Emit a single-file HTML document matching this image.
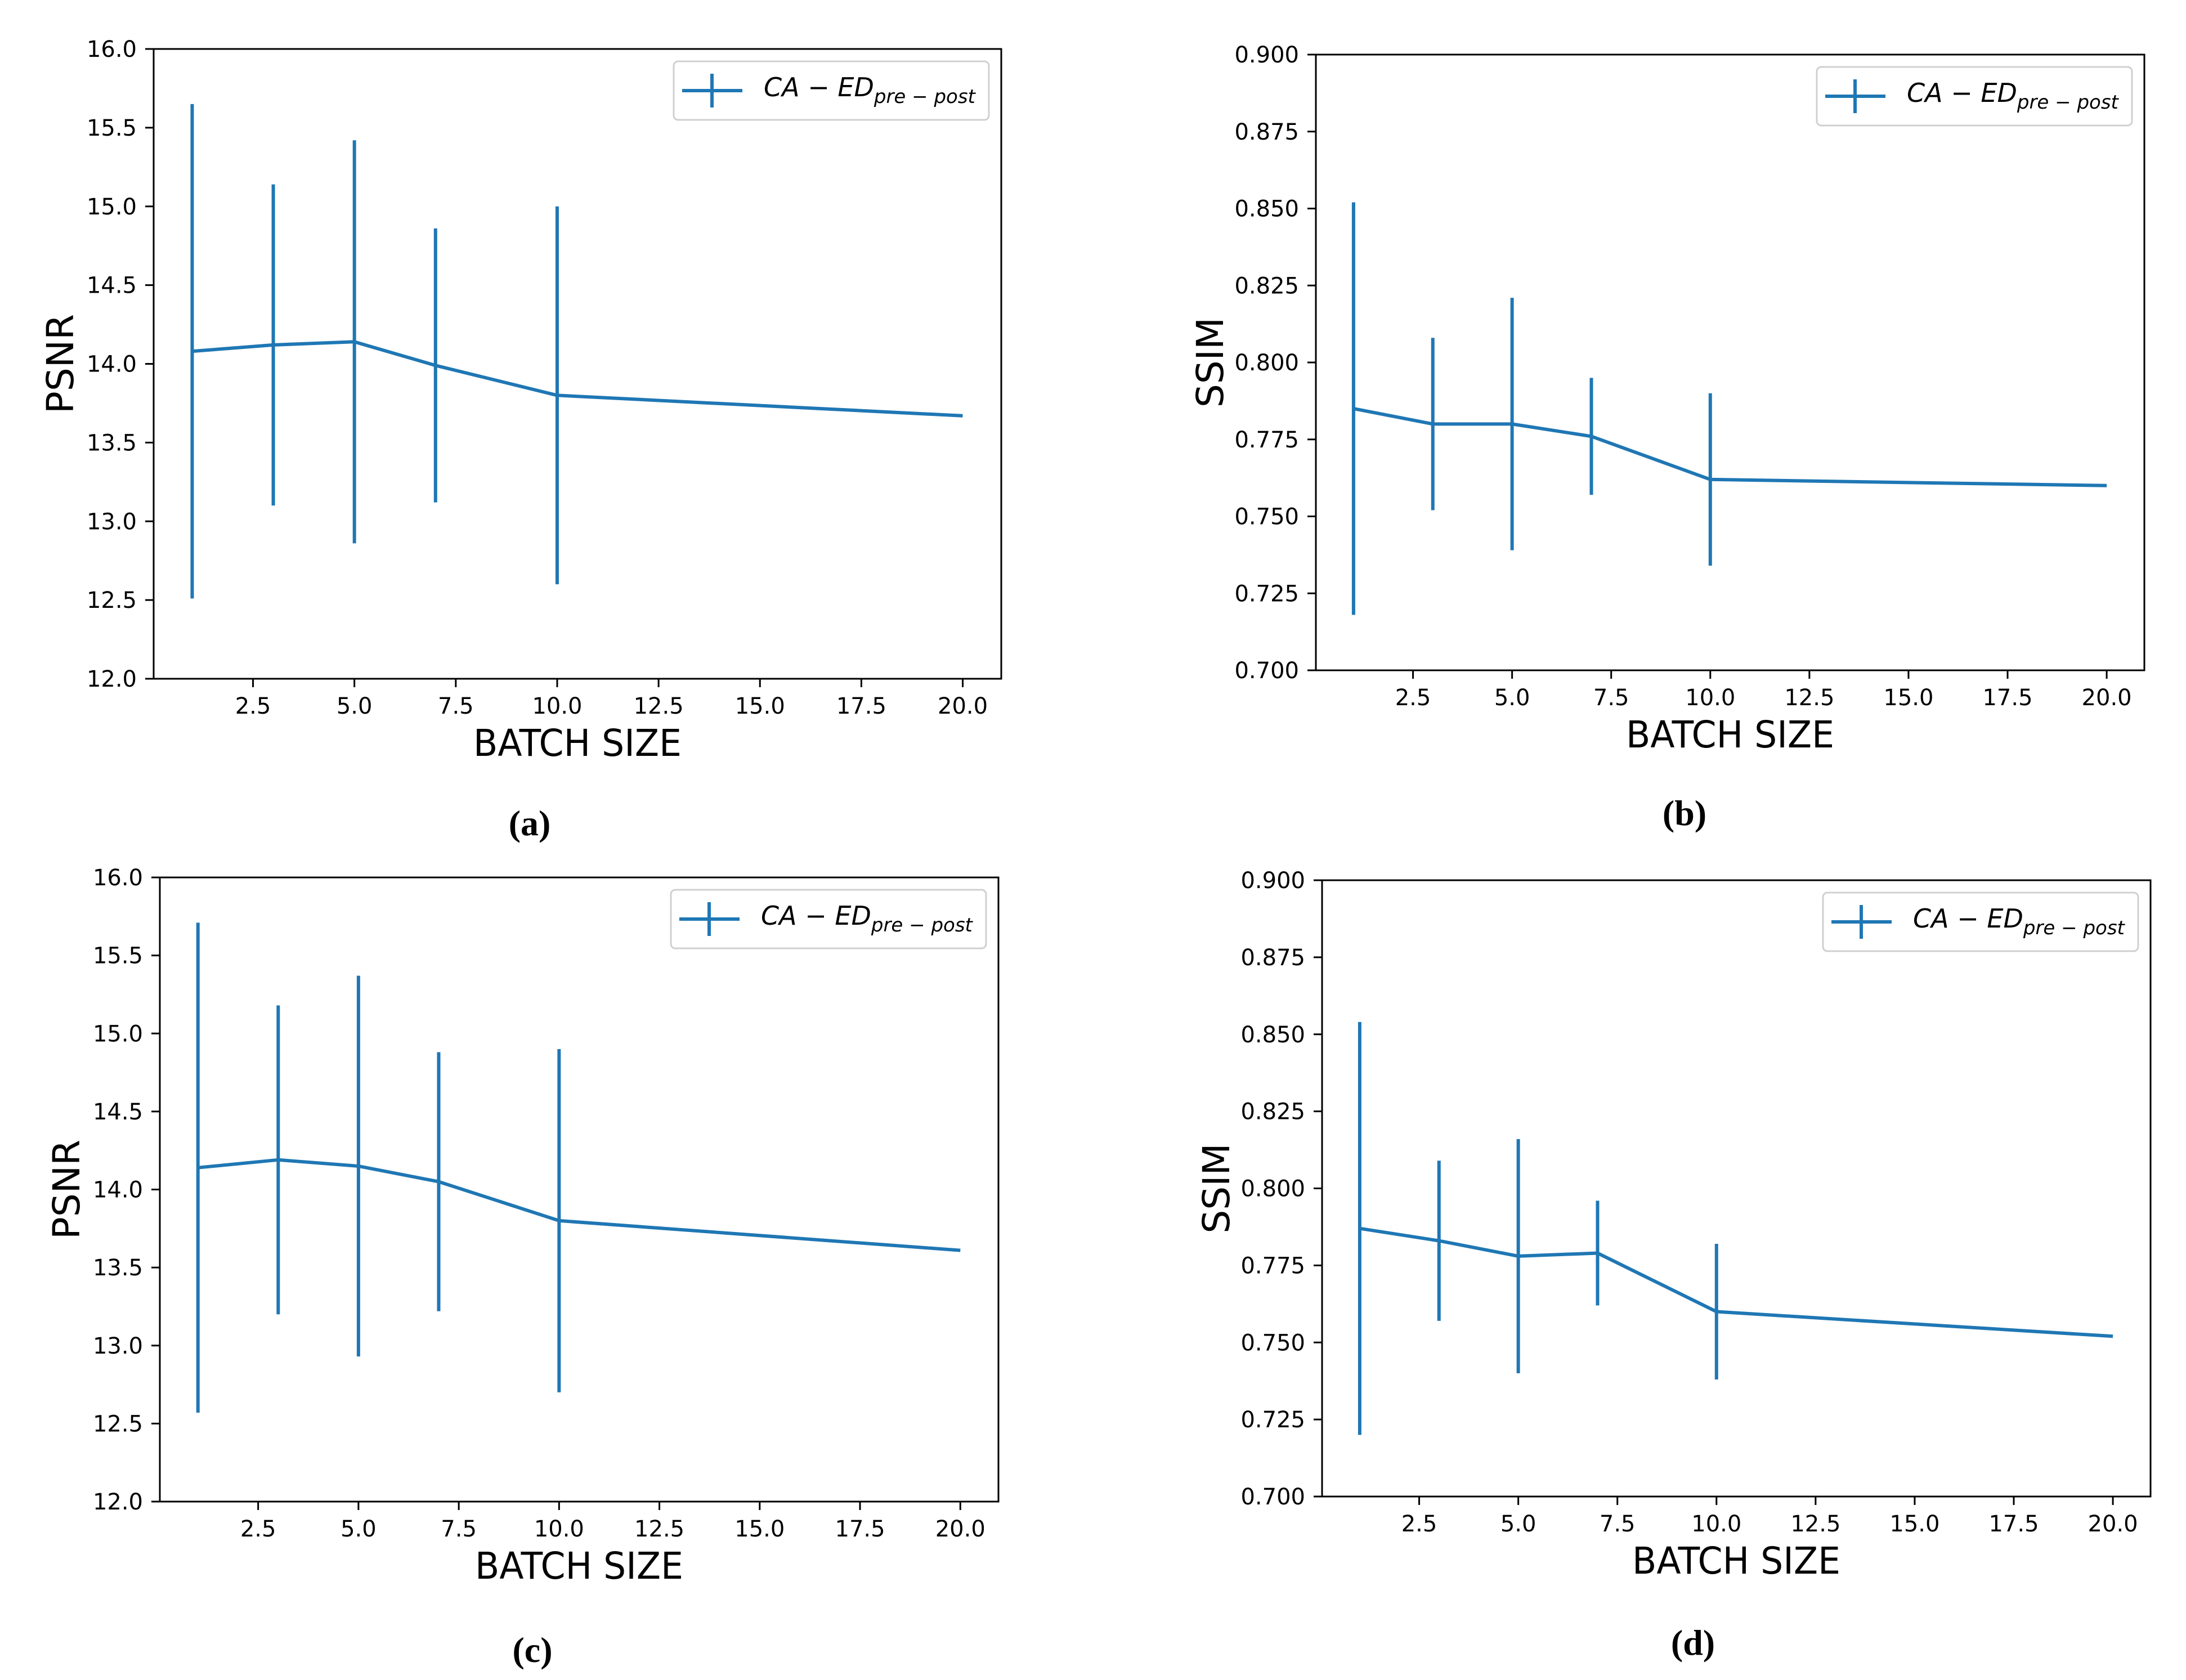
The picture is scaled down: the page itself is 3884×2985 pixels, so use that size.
<!DOCTYPE html>
<html><head><meta charset="utf-8">
<style>
html,body{margin:0;padding:0;background:#fff;}
svg{display:block;}
text{font-family:"DejaVu Sans","Liberation Sans",sans-serif;}
.cap{font-family:"Liberation Serif",serif;font-weight:bold;}
</style></head>
<body>
<svg id="fig" width="3884" height="2985" viewBox="0 0 3884 2985" xmlns="http://www.w3.org/2000/svg"></svg>
<script>
const batchSizes = [1, 3, 5, 7, 10, 20];
const psnrA = [14.08, 14.12, 14.14, 13.99, 13.80, 13.67];
const psnrAErr = [1.57, 1.02, 1.28, 0.87, 1.20, 0];
const ssimB = [0.785, 0.780, 0.780, 0.776, 0.762, 0.760];
const ssimBErr = [0.067, 0.028, 0.041, 0.019, 0.028, 0];
const psnrC = [14.14, 14.19, 14.15, 14.05, 13.80, 13.61];
const psnrCErr = [1.57, 0.99, 1.22, 0.83, 1.10, 0];
const ssimD = [0.787, 0.783, 0.778, 0.779, 0.760, 0.752];
const ssimDErr = [0.067, 0.026, 0.038, 0.017, 0.022, 0];
const xTicks = [2.5, 5.0, 7.5, 10.0, 12.5, 15.0, 17.5, 20.0];
const psnrTicks = [12.0, 12.5, 13.0, 13.5, 14.0, 14.5, 15.0, 15.5, 16.0];
const ssimTicks = [0.700, 0.725, 0.750, 0.775, 0.800, 0.825, 0.850, 0.875, 0.900];

const NS = 'http://www.w3.org/2000/svg';
const svg = document.getElementById('fig');
const C = '#1f77b4';
function mk(tag, attrs, parent) {
  const e = document.createElementNS(NS, tag);
  for (const k in attrs) e.setAttribute(k, attrs[k]);
  (parent || svg).appendChild(e);
  return e;
}

const panels = [
  {id:'a', L:273, T:87, R:1779, B:1206, y:psnrA, e:psnrAErr, ticks:psnrTicks, dec:1, ylab:'PSNR', cx:941, cy:1474},
  {id:'b', L:2338, T:97, R:3810, B:1191, y:ssimB, e:ssimBErr, ticks:ssimTicks, dec:3, ylab:'SSIM', cx:2993, cy:1456},
  {id:'c', L:284, T:1559, R:1774, B:2668, y:psnrC, e:psnrCErr, ticks:psnrTicks, dec:1, ylab:'PSNR', cx:946, cy:2943},
  {id:'d', L:2349, T:1564, R:3821, B:2659, y:ssimD, e:ssimDErr, ticks:ssimTicks, dec:3, ylab:'SSIM', cx:3008, cy:2930}
];

panels.forEach(p => {
  const g = mk('g', {});
  
  
  const x0 = 0.05, x1 = 20.95;
  const y0 = p.ticks[0], y1 = p.ticks[p.ticks.length - 1];
  const sx = v => p.L + (v - x0) / (x1 - x0) * (p.R - p.L);
  const sy = v => p.B - (v - y0) / (y1 - y0) * (p.B - p.T);

  batchSizes.forEach((b, i) => {
    if (p.e[i] <= 0) return;
    const l = mk('line', {x1:sx(b), x2:sx(b), y1:sy(p.y[i] - p.e[i]), y2:sy(p.y[i] + p.e[i]), stroke:C, 'stroke-width':6}, g);
    
    
  });
  const pts = batchSizes.map((b, i) => sx(b).toFixed(1) + ',' + sy(p.y[i]).toFixed(1)).join(' ');
  const pl = mk('polyline', {points:pts, fill:'none', stroke:C, 'stroke-width':6, 'stroke-linejoin':'round'}, g);
  
  

  const fr = mk('rect', {x:p.L, y:p.T, width:p.R - p.L, height:p.B - p.T, fill:'none', stroke:'#000', 'stroke-width':3}, g);
  
  

  xTicks.forEach(t => {
    const X = sx(t);
    const tl = mk('line', {x1:X, x2:X, y1:p.B, y2:p.B + 15, stroke:'#000', 'stroke-width':3}, g);
    
    
    const tx = mk('text', {x:X, y:p.B + 62, 'font-size':40, 'text-anchor':'middle', fill:'#000'}, g);
    tx.textContent = t.toFixed(1);
    
    
  });
  p.ticks.forEach(t => {
    const Y = sy(t);
    const tl = mk('line', {x1:p.L - 15, x2:p.L, y1:Y, y2:Y, stroke:'#000', 'stroke-width':3}, g);
    
    
    const tx = mk('text', {x:p.L - 30, y:Y + 14, 'font-size':40, 'text-anchor':'end', fill:'#000'}, g);
    tx.textContent = t.toFixed(p.dec);
    
    
  });
  const xl = mk('text', {x:(p.L + p.R) / 2, y:p.B + 137, 'font-size':66, 'text-anchor':'middle', fill:'#000', textLength:370, lengthAdjust:'spacingAndGlyphs'}, g);
  xl.textContent = 'BATCH SIZE';
  
  
  const yx = p.dec === 1 ? p.L - 143 : p.L - 165;
  const yc = (p.T + p.B) / 2;
  const yl = mk('text', {x:yx, y:yc, 'font-size':66, 'text-anchor':'middle', fill:'#000', transform:'rotate(-90 ' + yx + ' ' + yc + ')'}, g);
  yl.textContent = p.ylab;
  
  

  const lw = 560, lh = 104;
  const lx = p.R - lw - 22, ly = p.T + 22;
  const lg = mk('g', {}, g);
  
  
  mk('rect', {x:lx, y:ly, width:lw, height:lh, rx:8, fill:'#fff', stroke:'#d0d0d0', 'stroke-width':3}, lg);
  mk('line', {x1:lx + 15, x2:lx + 122, y1:ly + lh / 2, y2:ly + lh / 2, stroke:C, 'stroke-width':6}, lg);
  mk('line', {x1:lx + 68, x2:lx + 68, y1:ly + lh / 2 - 30, y2:ly + lh / 2 + 30, stroke:C, 'stroke-width':6}, lg);
  const lt = mk('text', {x:lx + 160, y:ly + lh / 2 + 10, 'font-size':46, 'font-style':'italic', fill:'#000'}, lg);
  
  
  const s1 = mk('tspan', {}, lt); s1.textContent = 'CA \u2212 ED';
  const s2 = mk('tspan', {dy:12, 'font-size':34}, lt); s2.textContent = 'pre \u2212 post';

  const cp = mk('text', {x:p.cx, y:p.cy + 10, 'font-size':64, 'text-anchor':'middle', fill:'#000', class:'cap'}, g);
  cp.textContent = '(' + p.id + ')';
  
  
});
</script>
</body></html>
